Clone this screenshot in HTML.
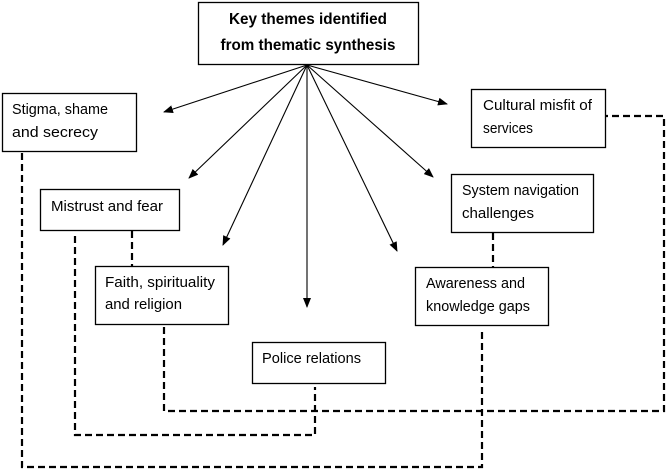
<!DOCTYPE html>
<html><head><meta charset="utf-8"><style>
html,body{margin:0;padding:0;background:#fff;}
svg{display:block;}
text{font-family:"Liberation Sans",sans-serif;font-size:14.5px;fill:#000;}
.b{font-weight:bold;font-size:15.5px;}
</style></head><body>
<svg width="669" height="472" viewBox="0 0 669 472" xmlns="http://www.w3.org/2000/svg">
<defs><marker id="a" markerWidth="10" markerHeight="8" refX="9" refY="4" orient="auto" markerUnits="userSpaceOnUse"><path d="M0,0 L10,4 L0,8 z" fill="#000"/></marker></defs>
<g fill="#fff" stroke="#000" stroke-width="1.3">
<rect x="198.5" y="2.5" width="220" height="62"/>
<rect x="2.5" y="93.5" width="134" height="58"/>
<rect x="471.5" y="89.5" width="134" height="58"/>
<rect x="40.5" y="189.5" width="139" height="41"/>
<rect x="451.5" y="174.5" width="142" height="58"/>
<rect x="95.5" y="266.5" width="133" height="58"/>
<rect x="415.5" y="267.5" width="133" height="58"/>
<rect x="252.5" y="342.5" width="133" height="41"/>
</g>
<g stroke="#000" stroke-width="1.1" marker-end="url(#a)">
<line x1="307" y1="65" x2="164" y2="112"/>
<line x1="307" y1="65" x2="447" y2="104"/>
<line x1="307" y1="65" x2="189" y2="178"/>
<line x1="307" y1="65" x2="433" y2="177"/>
<line x1="307" y1="65" x2="223" y2="245"/>
<line x1="307" y1="65" x2="397" y2="251"/>
<line x1="307" y1="65" x2="307" y2="307"/>
</g>
<g fill="none" stroke="#000" stroke-width="2.2" stroke-dasharray="7,4">
<polyline points="22,153 22,467 482,467 482,330"/>
<polyline points="75,236 75,435 315,435 315,387"/>
<polyline points="132,231 132,266"/>
<polyline points="164,327 164,411 664,411 664,116 606,116"/>
<polyline points="493,233 493,267"/>
</g>
<text class="b" x="308" y="24" text-anchor="middle" textLength="158" lengthAdjust="spacingAndGlyphs">Key themes identified</text>
<text class="b" x="308" y="50" text-anchor="middle" textLength="175" lengthAdjust="spacingAndGlyphs">from thematic synthesis</text>
<text x="12" y="114" textLength="96" lengthAdjust="spacingAndGlyphs">Stigma, shame</text>
<text x="12" y="137" textLength="86" lengthAdjust="spacingAndGlyphs">and secrecy</text>
<text x="483" y="110" textLength="109" lengthAdjust="spacingAndGlyphs">Cultural misfit of</text>
<text x="483" y="133" textLength="50" lengthAdjust="spacingAndGlyphs">services</text>
<text x="51" y="211" textLength="112" lengthAdjust="spacingAndGlyphs">Mistrust and fear</text>
<text x="462" y="195" textLength="117" lengthAdjust="spacingAndGlyphs">System navigation</text>
<text x="462" y="218" textLength="72" lengthAdjust="spacingAndGlyphs">challenges</text>
<text x="105" y="287" textLength="110" lengthAdjust="spacingAndGlyphs">Faith, spirituality</text>
<text x="105" y="309" textLength="77" lengthAdjust="spacingAndGlyphs">and religion</text>
<text x="426" y="288" textLength="99" lengthAdjust="spacingAndGlyphs">Awareness and</text>
<text x="426" y="311" textLength="104" lengthAdjust="spacingAndGlyphs">knowledge gaps</text>
<text x="262" y="363" textLength="99" lengthAdjust="spacingAndGlyphs">Police relations</text>
</svg>
</body></html>
